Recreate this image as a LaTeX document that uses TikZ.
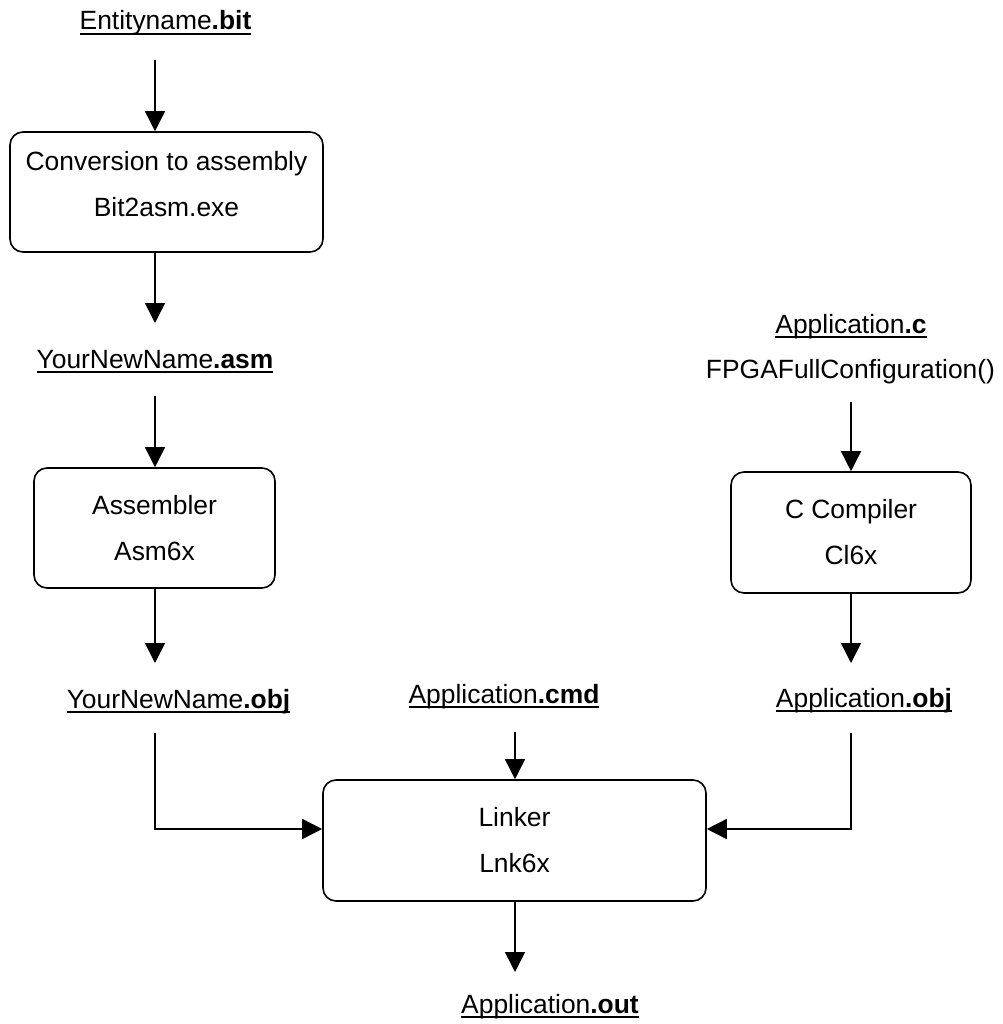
\documentclass[tikz,border=0pt]{standalone}
\usepackage{fontspec}
\setmainfont{Liberation Sans}
\usetikzlibrary{arrows.meta}
\newsavebox\ulbx
\newcommand{\ulab}[1]{\sbox\ulbx{#1}\rlap{\rule[-5.3pt]{\wd\ulbx}{2.4pt}}\usebox\ulbx}
\begin{document}
\begin{tikzpicture}[x=1pt,y=-1pt,
  every node/.style={font=\fontsize{26.4}{46}\selectfont},
  procbox/.style={draw, line width=1.6pt, rounded corners=13pt, align=center, inner sep=0pt},
  filelbl/.style={anchor=base, inner sep=0pt},
  arr/.style={line width=1.6pt, -{Triangle[length=20pt,width=20pt]}},
  ln/.style={line width=1.6pt}]
\fill[white] (0,0) rectangle (1002,1024);
\useasboundingbox (0,0) rectangle (1002,1024);

% process boxes
\node[procbox, minimum width=313pt, minimum height=120pt] (conv) at (166.5,192)
  {Conversion to assembly\\Bit2asm.exe\rule[-16pt]{0pt}{0pt}};
\node[procbox, minimum width=241pt, minimum height=120pt] (asm) at (154.5,528)
  {Assembler\\Asm6x};
\node[procbox, minimum width=240pt, minimum height=121pt] (cc) at (851,532.5)
  {C Compiler\\Cl6x};
\node[procbox, minimum width=383pt, minimum height=121pt] (lnk) at (514.5,840.5)
  {Linker\\Lnk6x};

% file labels
\node[filelbl] (bit) at (165.5,30) {\ulab{Entityname\textbf{.bit}}};
\node[filelbl] (asmf) at (155,368) {\ulab{YourNewName\textbf{.asm}}};
\node[filelbl] (objl) at (178.5,708) {\ulab{YourNewName\textbf{.obj}}};
\node[filelbl] (cfile) at (851,333) {\ulab{Application\textbf{.c}}};
\node[filelbl] (fpga) at (850.5,378) {FPGAFullConfiguration()};
\node[filelbl] (objr) at (864,707) {\ulab{Application\textbf{.obj}}};
\node[filelbl] (cmd) at (504,703) {\ulab{Application\textbf{.cmd}}};
\node[filelbl] (out) at (550,1013) {\ulab{Application\textbf{.out}}};

% connector end points
\coordinate (s1) at (155,60);
\coordinate (t2) at (155,323);
\coordinate (s3) at (155,396);
\coordinate (t4) at (155,663);
\coordinate (s5) at (851,402);
\coordinate (t6) at (851,663);
\coordinate (s7) at (155,733);
\coordinate (s8) at (851,733);
\coordinate (s9) at (515,732);
\coordinate (t10) at (515,972);
\coordinate (hy) at (0,829);

\draw[arr] (s1) -- (s1 |- conv.north);
\draw[arr] (conv.south -| t2) -- (t2);
\draw[arr] (s3) -- (s3 |- asm.north);
\draw[arr] (asm.south -| t4) -- (t4);
\draw[arr] (s5) -- (s5 |- cc.north);
\draw[arr] (cc.south -| t6) -- (t6);
\draw[arr] (s7) -- (s7 |- hy) -- (hy -| lnk.west);
\draw[arr] (s8) -- (s8 |- hy) -- (hy -| lnk.east);
\draw[arr] (s9) -- (s9 |- lnk.north);
\draw[arr] (lnk.south -| t10) -- (t10);
\end{tikzpicture}
\end{document}
